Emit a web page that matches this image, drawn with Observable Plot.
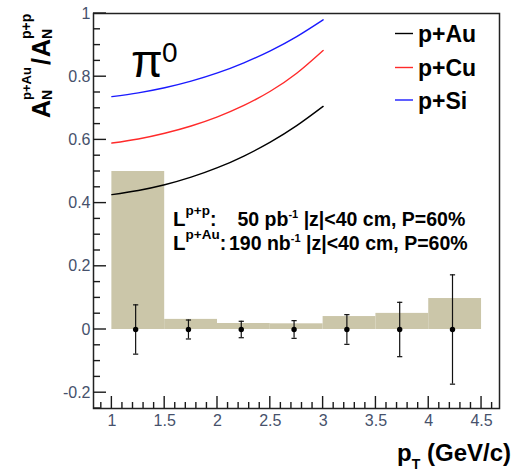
<!DOCTYPE html>
<html><head><meta charset="utf-8">
<script src="https://cdn.jsdelivr.net/npm/d3@7"></script>
<script src="https://cdn.jsdelivr.net/npm/@observablehq/plot@0.6"></script>
<style>
html,body{margin:0;padding:0;background:#fff;}
#chart svg{display:block;}
</style></head><body><div id="chart"></div>
<script>
// ---- data ----
const binEdges   = [1, 1.5, 2, 2.5, 3, 3.5, 4, 4.5];
const sysValues  = [0.5, 0.032, 0.019, 0.018, 0.041, 0.051, 0.098];
const pointX     = [1.225, 1.725, 2.225, 2.725, 3.225, 3.725, 4.225];
const pointY     = [0, 0, 0, 0, 0, 0, 0];
const pointErr   = [0.078, 0.030, 0.026, 0.028, 0.047, 0.086, 0.173];
const curveX     = [1, 1.25, 1.5, 1.75, 2, 2.25, 2.5, 2.75, 3];
const curvePAu   = [0.427, 0.440, 0.458, 0.482, 0.512, 0.549, 0.593, 0.645, 0.706];
const curvePCu   = [0.590, 0.603, 0.621, 0.644, 0.673, 0.709, 0.754, 0.811, 0.883];
const curvePSi   = [0.737, 0.749, 0.765, 0.786, 0.812, 0.844, 0.882, 0.927, 0.980];
const seriesNames  = ["p+Au", "p+Cu", "p+Si"];
const seriesColors = ["#000000", "#ff2a2a", "#1a1aff"];
const xMajorTicks = [1, 1.5, 2, 2.5, 3, 3.5, 4, 4.5];
const yMajorTicks = [-0.2, 0, 0.2, 0.4, 0.6, 0.8, 1];
const xMinorTicks = [0.9, 1.1, 1.2, 1.3, 1.4, 1.6, 1.7, 1.8, 1.9, 2.1, 2.2, 2.3, 2.4, 2.6, 2.7, 2.8, 2.9, 3.1, 3.2, 3.3, 3.4, 3.6, 3.7, 3.8, 3.9, 4.1, 4.2, 4.3, 4.4, 4.6];
const yMinorTicks = [-0.25, -0.15, -0.1, -0.05, 0.05, 0.1, 0.15, 0.25, 0.3, 0.35, 0.45, 0.5, 0.55, 0.65, 0.7, 0.75, 0.85, 0.9, 0.95];

// ---- tables ----
const curveSeries = [curvePAu, curvePCu, curvePSi];
const bars = sysValues.map((v, i) => ({x1: binEdges[i], x2: binEdges[i + 1], v}));
const pts = pointX.map((x, i) => ({x, y: pointY[i], lo: pointY[i] - pointErr[i], hi: pointY[i] + pointErr[i]}));
const curves = seriesNames.flatMap((s, k) => curveX.map((x, i) => ({x, y: curveSeries[k][i], s})));

const W = 514, H = 473, ML = 93, MR = 15, MT = 13, MB = 65;
const capSymbol = {draw(ctx) { ctx.moveTo(-2.6, 0); ctx.lineTo(2.6, 0); }};
const fmt = d => String(Math.round(d * 100) / 100);
const labelColor = "#46516b";
const font = "'Liberation Sans', Arial, Helvetica, sans-serif";

const plot = Plot.plot({
  width: W, height: H,
  marginLeft: ML, marginRight: MR, marginTop: MT, marginBottom: MB,
  x: {domain: [0.826, 4.67]},
  y: {domain: [-0.25, 1.0]},
  color: {domain: seriesNames, range: seriesColors},
  style: {fontFamily: font, background: "white", overflow: "visible"},
  marks: [
    Plot.rectY(bars, {x1: "x1", x2: "x2", y: "v", fill: "#cbc6a9"}),
    Plot.line(curves, {x: "x", y: "y", z: "s", stroke: "s", strokeWidth: 1.4, curve: "natural"}),
    Plot.ruleX(pts, {x: "x", y1: "lo", y2: "hi", stroke: "#111", strokeWidth: 1.2}),
    Plot.dot(pts, {x: "x", y: "lo", symbol: capSymbol, stroke: "#111", strokeWidth: 1.2, fill: "none"}),
    Plot.dot(pts, {x: "x", y: "hi", symbol: capSymbol, stroke: "#111", strokeWidth: 1.2, fill: "none"}),
    Plot.dot(pts, {x: "x", y: "y", r: 2.7, fill: "#000", stroke: "none"}),
    Plot.axisX({ticks: xMajorTicks, tickSize: 0, tickPadding: 6, tickFormat: fmt, label: null, fontSize: 16, color: labelColor}),
    Plot.axisY({ticks: yMajorTicks, tickSize: 0, tickPadding: 3, tickFormat: fmt, label: null, fontSize: 16, color: labelColor}),
    Plot.frame({stroke: "#222", strokeWidth: 1.5})
  ]
});
document.getElementById("chart").appendChild(plot);

const svg = d3.select(plot);

// ---- inward ticks, placed with the plot's own scales ----
const sx = plot.scale("x"), sy = plot.scale("y");
const px = d3.scaleLinear(sx.domain, sx.range);
const py = d3.scaleLinear(sy.domain, sy.range);
const bottom = H - MB, left = ML;
const tg = svg.append("g").attr("stroke", "#1a1a1a").attr("stroke-width", 1.4);
function xTicks(vals, len) {
  tg.selectAll(null).data(vals).join("line")
    .attr("x1", d => px(d)).attr("x2", d => px(d))
    .attr("y1", bottom).attr("y2", bottom - len);
}
function yTicks(vals, len) {
  tg.selectAll(null).data(vals).join("line")
    .attr("y1", d => py(d)).attr("y2", d => py(d))
    .attr("x1", left).attr("x2", left + len);
}
xTicks(xMajorTicks, 12); xTicks(xMinorTicks, 6);
yTicks(yMajorTicks, 13); yTicks(yMinorTicks, 7);

// ---- annotations (real text) ----
const ann = svg.append("g").attr("font-family", font).attr("fill", "#000").attr("text-anchor", "start");

// legend
const legendRows = [33.5, 67.5, 100];
seriesNames.forEach((name, i) => {
  const y = legendRows[i];
  ann.append("line").attr("x1", 395).attr("x2", 413).attr("y1", y).attr("y2", y)
    .attr("stroke", seriesColors[i]).attr("stroke-width", 1.4);
  ann.append("text").attr("x", 418).attr("y", y + 8.5).attr("font-size", 23)
    .attr("font-weight", "bold").text(name);
});

// pi0
ann.append("text").attr("x", 131).attr("y", 77).attr("font-size", 46).text("π");
ann.append("text").attr("x", 162).attr("y", 62).attr("font-size", 28).text("0");

// luminosity lines
function lumLine(y, sup, rest1, unitSup, rest2, xRest) {
  const t = ann.append("text").attr("y", y).attr("font-weight", "bold");
  t.append("tspan").attr("x", 173).attr("font-size", 20.5).text("L");
  t.append("tspan").attr("font-size", 13.5).attr("dy", -11).text(sup);
  t.append("tspan").attr("font-size", 19.5).attr("dy", 11).text(":");
  const t2 = ann.append("text").attr("y", y).attr("font-weight", "bold").attr("font-size", 19.5);
  t2.append("tspan").attr("x", xRest).text(rest1);
  t2.append("tspan").attr("font-size", 11).attr("dy", -8).text(unitSup);
  t2.append("tspan").attr("dy", 8).text(rest2);
}
lumLine(225.5, "p+p", "50 pb", "-1", " |z|<40 cm, P=60%", 237.5);
lumLine(250, "p+Au", "190 nb", "-1", " |z|<40 cm, P=60%", 229);

// y axis title (rotated)
const yl = ann.append("g").attr("transform", "translate(50,118) rotate(-90)").attr("font-weight", "bold");
yl.append("text").attr("x", 0).attr("y", 0).attr("font-size", 25).text("A");
yl.append("text").attr("x", 18).attr("y", 2).attr("font-size", 14).text("N");
yl.append("text").attr("x", 18).attr("y", -19).attr("font-size", 13).text("p+Au");
yl.append("text").attr("x", 53).attr("y", 0).attr("font-size", 25).text("/");
yl.append("text").attr("x", 61).attr("y", 0).attr("font-size", 25).text("A");
yl.append("text").attr("x", 79).attr("y", 2).attr("font-size", 14).text("N");
yl.append("text").attr("x", 79).attr("y", -19).attr("font-size", 14).text("p+p");

// x axis title
const xl = ann.append("text").attr("x", 511).attr("y", 461).attr("text-anchor", "end")
  .attr("font-weight", "bold").attr("font-size", 24);
xl.append("tspan").text("p");
xl.append("tspan").attr("font-size", 14).attr("dy", 8).text("T");
xl.append("tspan").attr("dy", -8).text(" (GeV/c)");
</script>
</body></html>
